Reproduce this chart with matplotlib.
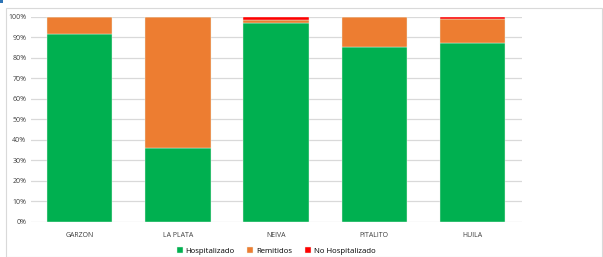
import matplotlib
matplotlib.use("Agg")
import matplotlib.pyplot as plt
from matplotlib.patches import Rectangle
import numpy as np

categories = ["GARZON", "LA PLATA", "NEIVA", "PITALITO", "HUILA"]
hospitalizado = [91.4, 36.0, 96.8, 85.0, 87.3]
remitidos = [8.6, 64.0, 1.7, 15.0, 11.7]
no_hospitalizado = [0.0, 0.0, 1.5, 0.0, 1.0]
series_names = ["Hospitalizado", "Remitidos", "No Hospitalizado"]
colors = ["#00B050", "#ED7D31", "#FF0000"]
yticks = [0, 10, 20, 30, 40, 50, 60, 70, 80, 90, 100]

W, H = 603, 257
fig = plt.figure(figsize=(W / 100, H / 100), dpi=100)
plt.rcParams['font.family'] = ['Open Sans', 'DejaVu Sans']

# outer chart frame
fig.patches.append(Rectangle((6 / W, 0), (W - 7) / W, 1 - 8 / H, transform=fig.transFigure,
                             fill=False, edgecolor="#d9d9d9", linewidth=0.8))
fig.patches.append(Rectangle((0, 1 - 3 / H), 3 / W, 3 / H, transform=fig.transFigure,
                             facecolor="#2E75B6", edgecolor="none"))

ax = fig.add_axes([30.5 / W, 1 - 222 / H, (521.7 - 30.5) / W, (222 - 16.7) / H])
x = np.arange(len(categories))
bottom = np.zeros(len(categories))
for vals, name, c in zip([hospitalizado, remitidos, no_hospitalizado], series_names, colors):
    ax.bar(x, vals, width=0.667, bottom=bottom, color=c, label=name,
           edgecolor="#e8f5e9", linewidth=0.3, zorder=3)
    bottom += np.array(vals)

ax.set_xlim(-0.5, len(categories) - 0.5)
ax.set_ylim(0, 100)
ax.set_yticks(yticks)
ax.set_yticklabels([f"{t}%" for t in yticks], fontsize=5, color="#404040")
ax.set_xticks(x)
ax.set_xticklabels(categories, fontsize=5, color="#404040")
ax.tick_params(axis="both", length=0)
ax.tick_params(axis="y", pad=3)
ax.tick_params(axis="x", pad=7)
ax.grid(axis="y", color="#d9d9d9", linewidth=0.9, zorder=0)
for s in ax.spines.values():
    s.set_visible(False)

ax.legend(loc="center", bbox_to_anchor=(0.5, -0.14), ncol=3, frameon=False,
          fontsize=5.6, handlelength=0.75, handleheight=0.75, handletextpad=0.4,
          columnspacing=1.6, borderaxespad=0)

fig.savefig("out.png", dpi=100)
